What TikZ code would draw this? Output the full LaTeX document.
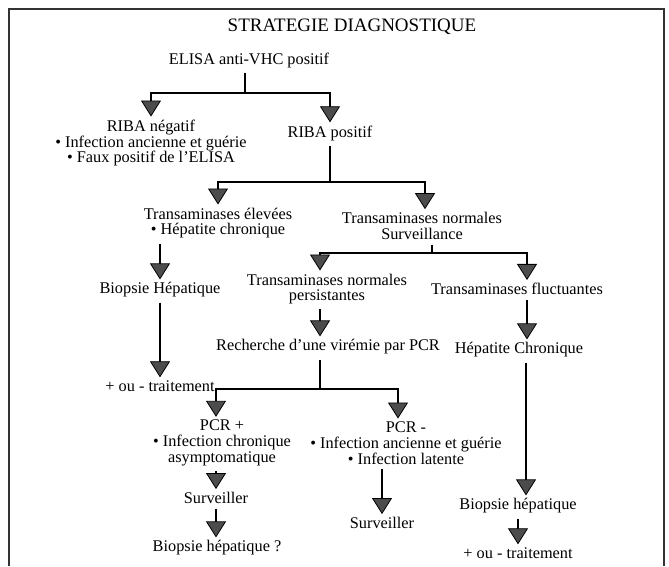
\documentclass[tikz,border=0pt]{standalone}
\usepackage{fontspec}
\setmainfont{Liberation Serif}
\usetikzlibrary{arrows.meta}
\tikzset{
  txt/.style={align=center, inner sep=2pt, font=\fontsize{16.3}{15.8}\selectfont},
  bar/.style={line width=2.8pt},
  arr/.style={line width=2.8pt, shorten >=1pt,
    -{Triangle[width=20pt,length=16pt,line width=0.8pt,fill=black!70]}},
}
\begin{document}
\begin{tikzpicture}[x=1pt, y=-1pt]
	\useasboundingbox (0,0) rectangle (669,566);
	\draw[line width=1.8pt, black!80] (9,566) -- (9,9) -- (664,9) -- (664,566);
	
	\node[txt, font=\fontsize{19}{20}\selectfont] (title) at (352, 27) {STRATEGIE DIAGNOSTIQUE};
	\node[txt] (elisa) at (249, 60) {ELISA anti-VHC positif};
	
	\node[txt] (ribaneg) at (151, 143) {RIBA négatif\\ • Infection ancienne et guérie\\ • Faux positif de l'ELISA};
	\node[txt] (ribapos) at (330, 133) {RIBA positif};
	
	\node[txt] (transel) at (218, 223) {Transaminases élevées\\ • Hépatite chronique};
	\node[txt] (transnorm) at (422, 226) {Transaminases normales\\ Surveillance};
	
	\node[txt] (biopsie) at (160, 290) {Biopsie Hépatique};
	\node[txt] (trait1) at (160, 386) {+ ou - traitement};
	
	\node[txt] (transpers) at (327, 289) {Transaminases normales\\ persistantes};
	\node[txt] (transfluc) at (517, 289) {Transaminases fluctuantes};
	\node[txt] (recherche) at (328, 347) {Recherche d'une virémie par PCR};
	\node[txt] (hepchron) at (519, 350) {Hépatite Chronique};
	
	\node[txt] (pcrpos) at (222, 443) {PCR +\\ • Infection chronique\\ asymptomatique};
	\node[txt] (pcrneg) at (406, 443) {PCR -\\ • Infection ancienne et guérie\\ • Infection latente};
	\node[txt] (surv1) at (216, 498) {Surveiller};
	\node[txt] (biopq) at (217, 548) {Biopsie hépatique ?};
	\node[txt] (surv2) at (382, 523) {Surveiller};
	
	\node[txt] (biopsie2) at (518, 506) {Biopsie hépatique};
	\node[txt] (trait2) at (518, 553) {+ ou - traitement};
	
	% premiere separation
	\coordinate (s1) at (245, 93);
	\draw[bar, shorten <=3pt] (elisa.south -| s1) -- (s1);
	\draw[arr] (s1) -| (ribaneg.north);
	\draw[arr] (s1) -| (ribapos.north);
	
	\coordinate (s2) at (330, 182);
	\draw[bar, shorten <=3pt] (ribapos.south) -- (s2);
	\draw[arr] (s2) -| (transel.north);
	\draw[arr] (s2) -| ([xshift=3pt]transnorm.north);
	
	\draw[arr, shorten <=3pt] (transel.south -| biopsie.north) -- (biopsie.north);
	\draw[arr, shorten <=3pt] (biopsie.south) -- (trait1.north);
	
	\coordinate (s3) at (432, 253);
	\draw[bar, shorten <=3pt] (transnorm.south -| s3) -- (s3);
	\draw[arr] (s3) -| ([xshift=-7pt]transpers.north);
	\draw[arr] (s3) -| ([xshift=10pt]transfluc.north);
	
	\draw[arr, shorten <=3pt] ([xshift=-7pt]transpers.south) -- ([xshift=-8pt]recherche.north);
	\draw[arr, shorten <=3pt] ([xshift=8pt]hepchron.north |- transfluc.south) -- ([xshift=8pt]hepchron.north);
	
	\coordinate (s4) at (320, 389);
	\draw[bar, shorten <=3pt] (recherche.south -| s4) -- (s4);
	\draw[arr] (s4) -| ([xshift=-6pt]pcrpos.north);
	\draw[arr] (s4) -| ([xshift=-8pt]pcrneg.north);
	
	\draw[arr, shorten <=3pt] (pcrpos.south -| surv1.north) -- (surv1.north);
	\draw[arr, shorten <=3pt] (surv1.south) -- (biopq.north -| surv1.south);
	\draw[arr, shorten <=3pt] (pcrneg.south -| surv2.north) -- (surv2.north);
	
	\draw[arr, shorten <=3pt] ([xshift=7pt]hepchron.south) -- ([xshift=7pt]hepchron.south |- biopsie2.north);
	\draw[arr, shorten <=3pt] (biopsie2.south) -- (trait2.north);
\end{tikzpicture}
\end{document}
